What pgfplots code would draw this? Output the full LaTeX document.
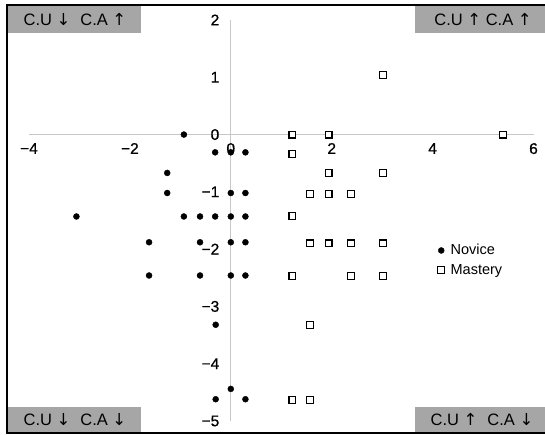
\documentclass[border=0pt]{standalone}
\usepackage{fontspec}
\setmainfont{Liberation Sans}
\newfontfamily\arrowfont{DejaVu Sans}
\newfontfamily\tickfont[FakeBold=0.7]{Liberation Sans}
\usepackage{pgfplots}
\pgfplotsset{compat=1.18}
\definecolor{boxgray}{HTML}{A6A6A6}
\definecolor{axgray}{HTML}{C8C8C8}
\begin{document}
\begin{tikzpicture}[x=1pt,y=1pt]
\useasboundingbox (0,0) rectangle (545,435);
\begin{axis}[
  at={(29pt,14pt)}, anchor=south west,
  scale only axis, width=504.5pt, height=401pt,
  xmin=-4, xmax=6, ymin=-5, ymax=2,
  axis lines=middle, axis line style={axgray, line width=0.8pt, -},
  xtick={-4,-2,0,2,4,6}, xticklabels={−4,−2,0,2,4,6},
  ytick={-5,-4,-3,-2,-1,0,1,2}, yticklabels={−5,−4,−3,−2,−1,0,1,2},
  major tick length=0pt,
  tick label style={font=\tickfont\fontsize{15.5}{17}\selectfont},
  xticklabel style={anchor=north, yshift=-5pt},
  yticklabel style={anchor=east, xshift=-8pt},
  hide obscured x ticks=false, hide obscured y ticks=false,
  clip=false,
  legend style={at={(axis cs:4.1,-1.88)}, anchor=north west, draw=none, fill=none,
    font=\fontsize{14.5}{17}\selectfont, row sep=4pt, column sep=4pt, inner sep=0pt},
  legend cell align=left,
  legend image code/.code={\draw[#1] plot coordinates {(0pt,0pt)};},
]
\addplot[only marks, mark=*, mark size=3pt, black] coordinates {
(-0.93,0)
(-0.31,-0.31) (0,-0.31) (0.29,-0.31)
(-1.26,-0.67)
(-1.26,-1.02) (0,-1.02) (0.29,-1.02)
(-3.06,-1.43) (-0.93,-1.43) (-0.61,-1.43) (-0.31,-1.43) (0,-1.43) (0.29,-1.43)
(-1.62,-1.88) (-0.61,-1.88) (0,-1.88) (0.29,-1.88)
(-1.62,-2.46) (-0.61,-2.46) (0,-2.46) (0.29,-2.46)
(-0.30,-3.32)
(0,-4.44)
(-0.30,-4.62) (0.29,-4.62)
};
\addlegendentry{Novice}
\addplot[only marks, mark=square*, mark size=3.4pt, black, mark options={fill=white, draw=black, line width=1.2pt}] coordinates {
(3.02,1.04)
(1.22,0) (1.94,0) (5.40,0)
(1.22,-0.34)
(1.94,-0.675) (3.02,-0.675)
(1.57,-1.04) (1.94,-1.04) (2.38,-1.04)
(1.22,-1.42)
(1.57,-1.90) (1.94,-1.90) (2.38,-1.90) (3.02,-1.90)
(1.22,-2.47) (2.38,-2.47) (3.02,-2.47)
(1.57,-3.32)
(1.22,-4.63) (1.57,-4.63)
};
\addlegendentry{Mastery}
\end{axis}
\fill[boxgray] (8,402) rectangle (141,429);
\fill[boxgray] (415,402) rectangle (545,429);
\fill[boxgray] (8,2) rectangle (141,28);
\fill[boxgray] (415,2) rectangle (545,28);
\begin{scope}[every node/.style={font=\fontsize{16.5}{19}\selectfont, inner sep=0pt}]
\node at (75,415.5) {C.U {\arrowfont ↓}\hspace{0.6em}C.A {\arrowfont ↑}};
\node at (483,415.5) {C.U {\arrowfont ↑} C.A {\arrowfont ↑}};
\node at (75,15) {C.U {\arrowfont ↓}\hspace{0.6em}C.A {\arrowfont ↓}};
\node at (482,15) {C.U {\arrowfont ↑}\hspace{0.6em}C.A {\arrowfont ↓}};
\end{scope}
\draw[line width=1.6pt] (545,430) -- (7,430) -- (7,2) -- (545,2);
\end{tikzpicture}
\end{document}
